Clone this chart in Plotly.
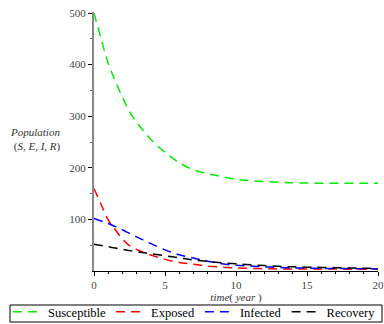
import plotly.graph_objects as go

t = [0, 0.5, 1, 1.5, 2, 2.5, 3, 3.5, 4, 5, 6, 7, 8, 9, 10, 11, 12, 13, 14, 15, 16, 17, 18, 19, 20]
susceptible = [500, 450, 403, 368, 337, 309, 288, 271, 255, 230, 210, 196, 189, 183, 178, 175, 173.5, 172, 171, 170.5, 170, 170, 170, 170, 170]
exposed = [160, 129, 99, 80, 62, 49, 42, 36, 31, 22.5, 16.5, 13, 9.5, 7.5, 6, 5, 4.5, 4, 4, 4, 3.8, 3.7, 3.6, 3.5, 3.5]
infected = [102, 97, 92, 86, 80, 73, 66, 59.5, 53, 41, 31.5, 25, 19, 14, 11, 9.5, 8, 7, 6, 5.5, 5, 5, 4.5, 4.5, 4]
recovery = [52, 49.5, 47, 44.5, 42, 39.5, 37.5, 35.5, 33.5, 29.5, 25.5, 21.5, 18.5, 16, 14, 12, 10.5, 9, 8, 7.5, 7, 6.5, 6, 5.5, 5]

names = ["Susceptible", "Exposed", "Infected", "Recovery"]
colors = ["#00ee00", "#ff0000", "#0000ff", "#000000"]
series = [susceptible, exposed, infected, recovery]

FONT = "Liberation Serif"
PL, PR, PT, PB = 94, 378, 12, 271
PW, PH = PR - PL, PB - PT

def px_x(p):
    return (p - PL) / PW

def px_y(p):
    return (PB - p) / PH

fig = go.Figure()
for name, col, ys in zip(names, colors, series):
    fig.add_trace(go.Scatter(x=t, y=ys, mode="lines", name=name,
                             line=dict(color=col, width=1.5, dash="9px,6px", shape="spline")))

fig.update_layout(
    width=384, height=324,
    margin=dict(l=PL, r=384 - PR, t=PT, b=324 - PB, autoexpand=False),
    plot_bgcolor="white", paper_bgcolor="white",
    font=dict(family=FONT, size=11, color="#222"),
    showlegend=True,
    legend=dict(orientation="h", x=px_x(8), xanchor="left", y=px_y(297), yanchor="top",
                borderwidth=0, bgcolor="rgba(0,0,0,0)", font=dict(family=FONT, size=12.5, color="black"),
                itemwidth=30, tracegroupgap=0),
    xaxis=dict(range=[0, 20], showgrid=False, zeroline=False, showline=True, linecolor="black",
               linewidth=1, ticks="outside", ticklen=4, tickcolor="black", dtick=5,
               tickfont=dict(family=FONT, size=11, color="#444"),
               minor=dict(ticks="outside", ticklen=2, dtick=1, tickcolor="black"),
               title=dict(text="<i>time</i>( <i>year</i> )", font=dict(family=FONT, size=11, color="#333"),
                          standoff=0)),
    yaxis=dict(range=[0, 502], showgrid=False, zeroline=False, showline=True, linecolor="#888888",
               linewidth=2, ticks="outside", ticklen=4, tickcolor="black", tickvals=[100, 200, 300, 400, 500],
               tickfont=dict(family=FONT, size=11, color="#444"),
               minor=dict(ticks="outside", ticklen=2, tickvals=[50, 150, 250, 350, 450], tickcolor="#666")),
)
fig.add_shape(type="rect", xref="paper", yref="paper",
              x0=px_x(10), x1=px_x(382), y0=px_y(322), y1=px_y(305),
              line=dict(color="black", width=1), fillcolor="rgba(0,0,0,0)")
fig.add_annotation(x=px_x(8), y=px_y(139), xref="paper", yref="paper", showarrow=False,
                   xanchor="left", yanchor="middle",
                   text="<i>Population</i><br> (<i>S</i>, <i>E</i>, <i>I</i>, <i>R</i>)",
                   font=dict(family=FONT, size=11, color="#333"), align="left")
fig.write_html("out.html", config={"displayModeBar": False},
               post_script="document.body.style.margin='0';document.body.style.overflow='hidden';")
